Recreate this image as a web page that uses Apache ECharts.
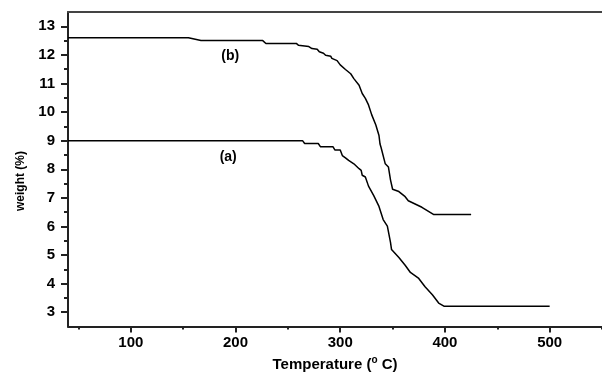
<!DOCTYPE html>
<html>
<head>
<meta charset="utf-8">
<script src="https://cdn.jsdelivr.net/npm/echarts@6/dist/echarts.min.js"></script>
<style>
  html, body { margin: 0; padding: 0; background: #fff; }
  #chart { width: 602px; height: 377px; }
</style>
</head>
<body>
<div id="chart"></div>
<script>
// curve (a)
const tempA = [40, 264, 266, 279, 281, 293, 295, 300, 302, 305, 308, 313, 318, 320, 321, 324, 327, 332, 337, 341,
  345, 348, 349, 356, 362, 367, 375, 381, 388, 394, 399, 500];
const weightA = [9, 9, 8.9, 8.9, 8.79, 8.79, 8.67, 8.67, 8.48, 8.4, 8.31, 8.19, 8.02, 7.96, 7.79, 7.73, 7.41, 7.08, 6.7, 6.24,
  6.01, 5.44, 5.19, 4.91, 4.64, 4.39, 4.18, 3.89, 3.61, 3.32, 3.21, 3.21];

// curve (b)
const tempB = [40, 155, 167, 226, 229, 258, 260, 270, 273, 278, 280, 284, 286, 291, 292, 297, 300, 305, 310, 313,
  318, 321, 324, 327, 330, 334, 337, 338, 339, 343, 346, 348, 350, 356, 362, 365, 378, 389, 425];
const weightB = [12.6, 12.6, 12.5, 12.5, 12.4, 12.4, 12.34, 12.29, 12.22, 12.2, 12.11, 12.06, 11.99, 11.95, 11.88, 11.8, 11.65, 11.49, 11.34, 11.17,
  10.94, 10.65, 10.48, 10.25, 9.91, 9.55, 9.18, 8.88, 8.76, 8.19, 8.08, 7.63, 7.3, 7.22, 7.04, 6.9, 6.67, 6.42, 6.42];

const xMajor = [100, 200, 300, 400, 500];
const xMinor = [50, 150, 250, 350, 450, 550];
const yMajor = [3, 4, 5, 6, 7, 8, 9, 10, 11, 12, 13];
const yMinor = [3.5, 4.5, 5.5, 6.5, 7.5, 8.5, 9.5, 10.5, 11.5, 12.5];

const font = '"Liberation Sans", Arial, sans-serif';
const axisColor = '#222';

function pairs(xs, ys) {
  return xs.map((x, i) => [x, ys[i]]);
}

function tag(text, coord) {
  return {
    symbol: 'circle',
    symbolSize: 0,
    silent: true,
    data: [{
      coord: coord,
      label: {
        show: true,
        position: 'inside',
        formatter: text,
        color: '#000',
        fontFamily: font,
        fontWeight: 'bold',
        fontSize: 14
      }
    }]
  };
}

const chart = echarts.init(document.getElementById('chart'));
const xRange = { type: 'value', min: 40, max: 550 };
const yRange = { type: 'value', min: 2.5, max: 13.5 };

const option = {
  animation: false,
  backgroundColor: '#fff',
  grid: { left: 68, right: 0, top: 12, bottom: 45, containLabel: false },
  graphic: [{
    type: 'text',
    x: 21,
    y: 181,
    rotation: Math.PI / 2,
    style: {
      text: 'weight (%)',
      fill: '#000',
      font: 'bold 12px ' + font,
      textAlign: 'center',
      textVerticalAlign: 'middle'
    }
  }],
  xAxis: [
    {
      ...xRange,
      position: 'bottom',
      name: 'Temperature ({sup|o} C)',
      nameLocation: 'middle',
      nameGap: 29,
      nameTextStyle: {
        color: '#000', fontFamily: font, fontWeight: 'bold', fontSize: 15,
        rich: { sup: { fontFamily: font, fontWeight: 'bold', fontSize: 10, padding: [0, 0, 8, 0] } }
      },
      axisLine: { onZero: false, lineStyle: { color: axisColor, width: 2 } },
      axisTick: { customValues: xMajor, length: 6, lineStyle: { color: axisColor, width: 2 } },
      axisLabel: { customValues: xMajor, margin: 9, color: '#000', fontFamily: font, fontWeight: 'bold', fontSize: 15 },
      splitLine: { show: false }
    },
    {
      ...xRange,
      position: 'bottom',
      axisLine: { show: false, onZero: false },
      axisTick: { customValues: xMinor, length: 3, lineStyle: { color: axisColor, width: 2 } },
      axisLabel: { show: false },
      splitLine: { show: false }
    },
    {
      ...xRange,
      position: 'top',
      axisLine: { onZero: false, lineStyle: { color: '#444', width: 2 } },
      axisTick: { show: false },
      axisLabel: { show: false },
      splitLine: { show: false }
    }
  ],
  yAxis: [
    {
      ...yRange,
      position: 'left',
      axisLine: { onZero: false, lineStyle: { color: axisColor, width: 2 } },
      axisTick: { customValues: yMajor, length: 7, lineStyle: { color: axisColor, width: 2 } },
      axisLabel: { customValues: yMajor, margin: 13, color: '#000', fontFamily: font, fontWeight: 'bold', fontSize: 15 },
      splitLine: { show: false }
    },
    {
      ...yRange,
      position: 'left',
      axisLine: { show: false, onZero: false },
      axisTick: { customValues: yMinor, length: 4, lineStyle: { color: axisColor, width: 2 } },
      axisLabel: { show: false },
      splitLine: { show: false }
    }
  ],
  series: [
    {
      name: '(a)',
      type: 'line',
      xAxisIndex: 0,
      yAxisIndex: 0,
      showSymbol: false,
      data: pairs(tempA, weightA),
      lineStyle: { color: '#000', width: 1.5 },
      markPoint: tag('(a)', [193, 8.42])
    },
    {
      name: '(b)',
      type: 'line',
      xAxisIndex: 0,
      yAxisIndex: 0,
      showSymbol: false,
      data: pairs(tempB, weightB),
      lineStyle: { color: '#000', width: 1.5 },
      markPoint: tag('(b)', [195, 11.94])
    }
  ]
};

chart.setOption(option);
</script>
</body>
</html>
